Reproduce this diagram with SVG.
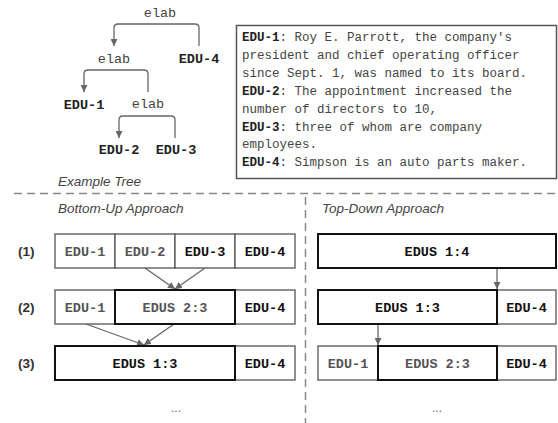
<svg xmlns="http://www.w3.org/2000/svg" width="558" height="423" viewBox="0 0 558 423">
<defs>
<marker id="ah" viewBox="0 0 10 10" refX="10" refY="5" markerWidth="7" markerHeight="7" markerUnits="userSpaceOnUse" orient="auto">
<path d="M0,0 L10,5 L0,10 z" fill="#666"/>
</marker>
<style>
.mono{font-family:"Liberation Mono","DejaVu Sans Mono",monospace;font-size:13.5px;fill:#444}
.b{font-weight:bold;fill:#222}
.tb{font-family:"Liberation Mono","DejaVu Sans Mono",monospace;font-size:12.5px;fill:#444}
.tb .k{font-weight:bold;fill:#222}
.it{font-family:"Liberation Sans",Arial,sans-serif;font-style:italic;font-size:13.5px;fill:#444}
.lbl{font-family:"Liberation Sans",Arial,sans-serif;font-weight:bold;font-size:13.5px;fill:#333}
.cell{fill:#fff;stroke:#555;stroke-width:1.3}
.hl{fill:#fff;stroke:#111;stroke-width:2}
.ct{font-family:"Liberation Mono","DejaVu Sans Mono",monospace;font-size:13.5px;font-weight:bold;text-anchor:middle}
.g{fill:#555}
.k2{fill:#111}
.con{fill:none;stroke:#666;stroke-width:1.3}
.dash{stroke:#888;stroke-width:1.5;stroke-dasharray:8 5;fill:none}
.dots{font-family:"Liberation Sans",Arial,sans-serif;font-size:12px;fill:#666;text-anchor:middle}
</style>
</defs>

<g id="tree-labels">
<text class="mono" x="160" y="16.5" text-anchor="middle">elab</text>
<text class="mono" x="114" y="63" text-anchor="middle">elab</text>
<text class="mono b" x="199" y="63" text-anchor="middle">EDU-4</text>
<text class="mono b" x="84" y="109" text-anchor="middle">EDU-1</text>
<text class="mono" x="148" y="108" text-anchor="middle">elab</text>
<text class="mono b" x="119" y="154" text-anchor="middle">EDU-2</text>
<text class="mono b" x="176" y="154" text-anchor="middle">EDU-3</text>
</g>

<g id="connectors">
<path class="con" d="M199,46 V28 Q199,24 195,24 H118 Q114,24 114,28 V46" marker-end="url(#ah)"/>
<path class="con" d="M148,92 V74 Q148,70 144,70 H88 Q84,70 84,74 V92" marker-end="url(#ah)"/>
<path class="con" d="M175,138 V120 Q175,116 171,116 H123 Q119,116 119,120 V138" marker-end="url(#ah)"/>
<line class="con" x1="145" y1="268" x2="175" y2="289" marker-end="url(#ah)"/>
<line class="con" x1="205" y1="268" x2="175" y2="289" marker-end="url(#ah)"/>
<line class="con" x1="86" y1="324" x2="144" y2="345" marker-end="url(#ah)"/>
<line class="con" x1="174" y1="324" x2="144" y2="345" marker-end="url(#ah)"/>
<line class="con" x1="497" y1="268" x2="497" y2="289" marker-end="url(#ah)"/>
<line class="con" x1="378" y1="324" x2="378" y2="345" marker-end="url(#ah)"/>
</g>

<g id="edu-text-box">
<rect x="236.5" y="25.5" width="320" height="153" fill="#fff" stroke="#555" stroke-width="1.5"/>
<text class="tb" x="242" y="41"><tspan class="k">EDU-1</tspan>: Roy E. Parrott, the company's</text>
<text class="tb" x="242" y="58.9">president and chief operating officer</text>
<text class="tb" x="242" y="76.8">since Sept. 1, was named to its board.</text>
<text class="tb" x="242" y="94.7"><tspan class="k">EDU-2</tspan>: The appointment increased the</text>
<text class="tb" x="242" y="112.6">number of directors to 10,</text>
<text class="tb" x="242" y="130.5"><tspan class="k">EDU-3</tspan>: three of whom are company</text>
<text class="tb" x="242" y="148.4">employees.</text>
<text class="tb" x="242" y="166.3"><tspan class="k">EDU-4</tspan>: Simpson is an auto parts maker.</text>
</g>

<g id="section-captions">
<text class="it" x="58" y="186">Example Tree</text>
<line class="dash" x1="14" y1="193.5" x2="558" y2="193.5"/>
<line class="dash" x1="305.5" y1="197" x2="305.5" y2="423"/>
<text class="it" x="58" y="213">Bottom-Up Approach</text>
<text class="it" x="322" y="213">Top-Down Approach</text>
<text class="lbl" x="18" y="256">(1)</text>
<text class="lbl" x="18" y="312">(2)</text>
<text class="lbl" x="18" y="368">(3)</text>
</g>

<g id="bu-row1">
<rect class="cell" x="55" y="234" width="60" height="34"/>
<rect class="cell" x="115" y="234" width="60" height="34"/>
<rect class="cell" x="175" y="234" width="60" height="34"/>
<rect class="cell" x="235" y="234" width="60" height="34"/>
<text class="ct g" x="85" y="256">EDU-1</text>
<text class="ct g" x="145" y="256">EDU-2</text>
<text class="ct k2" x="205" y="256">EDU-3</text>
<text class="ct k2" x="265" y="256">EDU-4</text>
</g>

<g id="bu-row2">
<rect class="cell" x="55" y="290" width="60" height="34"/>
<rect class="cell" x="235" y="290" width="60" height="34"/>
<rect class="hl" x="115" y="290" width="120" height="34"/>
<text class="ct g" x="85" y="312">EDU-1</text>
<text class="ct g" x="175" y="312">EDUS 2:3</text>
<text class="ct k2" x="265" y="312">EDU-4</text>
</g>

<g id="bu-row3">
<rect class="cell" x="235" y="346" width="60" height="34"/>
<rect class="hl" x="55" y="346" width="180" height="34"/>
<text class="ct k2" x="145" y="368">EDUS 1:3</text>
<text class="ct k2" x="265" y="368">EDU-4</text>
</g>

<g id="td-row1">
<rect class="hl" x="318" y="234" width="238" height="34"/>
<text class="ct k2" x="437" y="256">EDUS 1:4</text>
</g>

<g id="td-row2">
<rect class="cell" x="497" y="290" width="59" height="34"/>
<rect class="hl" x="318" y="290" width="179" height="34"/>
<text class="ct k2" x="407.5" y="312">EDUS 1:3</text>
<text class="ct k2" x="526.5" y="312">EDU-4</text>
</g>

<g id="td-row3">
<rect class="cell" x="318" y="346" width="60" height="34"/>
<rect class="cell" x="497" y="346" width="59" height="34"/>
<rect class="hl" x="378" y="346" width="119" height="34"/>
<text class="ct g" x="348" y="368">EDU-1</text>
<text class="ct g" x="437.5" y="368">EDUS 2:3</text>
<text class="ct k2" x="526.5" y="368">EDU-4</text>
</g>

<g id="ellipses">
<text class="dots" x="176" y="412">...</text>
<text class="dots" x="437" y="412">...</text>
</g>
</svg>
